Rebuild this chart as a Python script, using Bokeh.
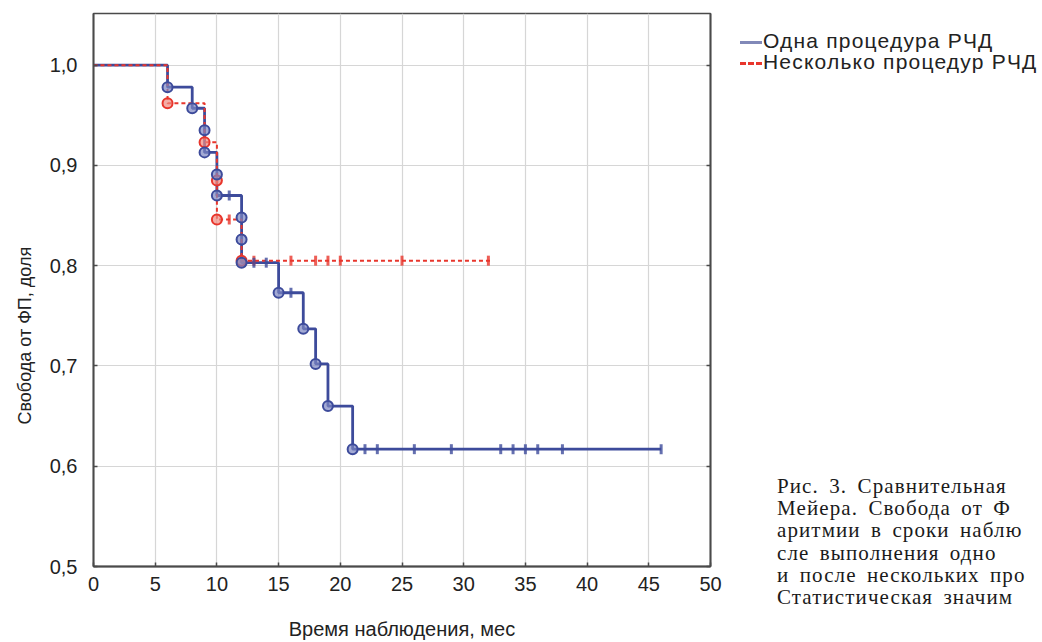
import math
from bokeh.plotting import figure
from bokeh.layouts import column
from bokeh.models import (Range1d, FixedTicker, CustomJSTickFormatter, LinearAxis, Title, Div)
from bokeh.embed import file_html
from bokeh.resources import INLINE

# ---------------- data ----------------
# "Одна процедура РЧД"
one_event_times = [0, 6, 8, 9, 9, 10, 10, 12, 12, 12, 15, 17, 18, 19, 21]
one_event_surv = [1.0, 0.978, 0.957, 0.935, 0.913, 0.891, 0.870, 0.848, 0.826, 0.803,
                  0.773, 0.737, 0.702, 0.660, 0.617]
one_end_time = 46
one_censor_times = [11, 13, 14, 16, 22, 23, 26, 29, 33, 34, 35, 36, 38, 46]

# "Несколько процедур РЧД"
sev_event_times = [0, 6, 9, 10, 10, 12]
sev_event_surv = [1.0, 0.962, 0.923, 0.885, 0.846, 0.805]
sev_end_time = 32.3
sev_censor_times = [11, 13, 16, 18, 19, 20, 25, 32]

series_names = ["Одна процедура РЧД", "Несколько процедур РЧД"]
x_ticks = [0, 5, 10, 15, 20, 25, 30, 35, 40, 45, 50]
y_ticks = [0.5, 0.6, 0.7, 0.8, 0.9, 1.0]
x_title = "Время наблюдения, мес"
y_title = "Свобода от ФП, доля"
caption_lines = ["Рис. 3. Сравнительная",
                 "Мейера. Свобода от Ф",
                 "аритмии в сроки наблю",
                 "сле выполнения одно",
                 "и после нескольких про",
                 "Статистическая значим"]


def surv_at(t, times, surv):
    s = surv[0]
    for ti, si in zip(times, surv):
        if ti <= t:
            s = si
    return s


BLUE = "#3d4b9b"
BLUE_FILL = "#7c86c2"
BLUE_LEG = "#8189b8"
RED = "#e8362c"
RED_FILL = "#f08a80"
AXC = "#4a4a4a"
FONT = "Liberation Sans"
TXT = "#222222"

# ---------------- main plot ----------------
p = figure(width=1042, height=642, output_backend="svg", toolbar_location=None,
           x_range=Range1d(0, 50), y_range=Range1d(0.5, 1.0515),
           min_border_left=93, min_border_right=332, min_border_top=13, min_border_bottom=72)
p.background_fill_color = "white"
p.border_fill_color = "white"
p.outline_line_color = AXC
p.outline_line_width = 1.5

right_axis = LinearAxis(ticker=FixedTicker(ticks=y_ticks),
                        formatter=CustomJSTickFormatter(code="return '';"))
p.add_layout(right_axis, "right")

for ax in (p.xaxis[0], p.yaxis[0], right_axis):
    ax.axis_line_color = AXC
    ax.axis_line_width = 1.8
    ax.major_tick_in = 4
    ax.major_tick_out = 0
    ax.major_tick_line_color = AXC
    ax.major_tick_line_width = 1.5
    ax.minor_tick_line_color = None
    ax.major_label_text_font = FONT
    ax.major_label_text_font_size = "20px"
    ax.major_label_text_color = TXT
right_axis.major_label_standoff = 0

p.xaxis[0].ticker = FixedTicker(ticks=x_ticks)
p.yaxis[0].ticker = FixedTicker(ticks=y_ticks)
p.yaxis[0].formatter = CustomJSTickFormatter(code="return tick.toFixed(1).replace('.', ',');")
p.xaxis.major_label_standoff = 10
p.yaxis[0].major_label_standoff = 16

p.xaxis.axis_label = x_title
p.xaxis.axis_label_text_font = FONT
p.xaxis.axis_label_text_font_size = "20px"
p.xaxis.axis_label_text_font_style = "normal"
p.xaxis.axis_label_text_color = TXT
p.xaxis.axis_label_standoff = 24

p.add_layout(Title(text=y_title, align="left", offset=142, standoff=24,
                   text_font=FONT, text_font_size="18px", text_font_style="normal",
                   text_color=TXT), "left")

p.xgrid.ticker = FixedTicker(ticks=x_ticks[1:-1])
p.ygrid.ticker = FixedTicker(ticks=y_ticks[1:])
p.grid.grid_line_color = "#d6d6d6"
p.grid.grid_line_width = 1.2

# step curves
one_x = one_event_times + [one_end_time]
one_y = one_event_surv + [one_event_surv[-1]]
sev_x = sev_event_times + [sev_end_time]
sev_y = sev_event_surv + [sev_event_surv[-1]]

p.step(one_x, one_y, mode="after", line_color=BLUE, line_width=2.8)
p.step(sev_x, sev_y, mode="after", line_color=RED, line_width=2, line_dash="4 3")

# censoring marks
sev_cy = [surv_at(t, sev_event_times, sev_event_surv) for t in sev_censor_times]
one_cy = [surv_at(t, one_event_times, one_event_surv) for t in one_censor_times]
p.scatter(sev_censor_times, sev_cy, marker="dash", angle=math.pi / 2, size=10,
          line_color=RED, line_width=3, line_alpha=0.8)
p.scatter(one_censor_times, one_cy, marker="dash", angle=math.pi / 2, size=10,
          line_color=BLUE, line_width=3, line_alpha=0.8)

# event circles
p.scatter(sev_event_times[1:], sev_event_surv[1:], marker="circle", size=10,
          fill_color=RED_FILL, fill_alpha=0.7, line_color=RED, line_width=2)
p.scatter(one_event_times[1:], one_event_surv[1:], marker="circle", size=10,
          fill_color=BLUE_FILL, fill_alpha=0.7, line_color=BLUE, line_width=2)

# ---------------- legend (outside the plot box, upper right) ----------------
def leg_row(name, style):
    return ('<div style="height:21px; line-height:21px;">'
            '<span style="display:inline-block; width:22px; height:0; '
            'border-top:3px ' + style + '; vertical-align:middle; margin-right:1px;"></span>'
            + name + '</div>')


leg_html = ('<div style="font-family: \'Liberation Sans\'; font-size: 21px; color: #222222; '
            'white-space: nowrap; letter-spacing: 1.2px;">'
            + leg_row(series_names[0], "solid " + BLUE_LEG)
            + leg_row(series_names[1], "dashed " + RED)
            + '</div>')
legend_div = Div(text=leg_html, width=300, height=44, margin=(30 - 642, 0, 0, 740))

# ---------------- caption (text block to the lower right) ----------------
cap_html = ('<div style="font-family: \'Liberation Serif\'; font-size: 21px; '
            'line-height: 22.2px; color: #1a1a1a; white-space: nowrap; '
            'letter-spacing: 1.1px; word-spacing: 4px;">'
            + "<br>".join(caption_lines) + "</div>")
caption = Div(text=cap_html, width=262, height=140, margin=(475 - 30 - 44, 0, 0, 777))

layout = column(p, legend_div, caption, spacing=0)
open("out.html", "w").write(file_html(layout, INLINE))
